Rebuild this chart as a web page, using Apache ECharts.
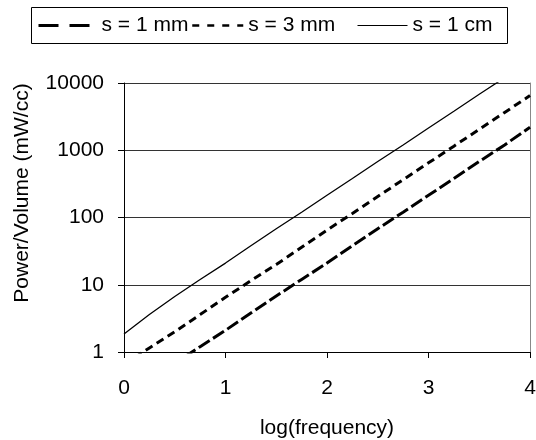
<!DOCTYPE html>
<html>
<head>
<meta charset="utf-8">
<script src="https://cdn.jsdelivr.net/npm/echarts@6/dist/echarts.min.js"></script>
<style>
html,body{margin:0;padding:0;background:#fff;}
#c{width:536px;height:440px;}
</style>
</head>
<body>
<div id="c"></div>
<script>
// log(frequency) sample positions
var logFreq = [0, 0.25, 0.5, 0.75, 1, 1.25, 1.5, 1.75, 2, 2.25, 2.5, 2.75, 3, 3.25, 3.5, 3.75, 4];
// Power/Volume (mW/cc)
var s1mm = [0.3, 0.5, 0.68, 1.2, 2.1, 3.8, 6.8, 12, 21, 38, 68, 120, 214, 380, 680, 1200, 2200];
var s3mm = [0.65, 1.15, 2.0, 3.6, 6.5, 11.5, 20, 36, 65, 115, 205, 365, 650, 1150, 2050, 3650, 6500];
var s1cm = [1.85, 3.6, 6.7, 12, 21, 38, 68, 120, 214, 380, 680, 1200, 2140, 3800, 6800, 12000, 21000];
var seriesNames = ['s = 1 mm', 's = 3 mm', 's = 1 cm'];
var yTicks = [1, 10, 100, 1000, 10000];

function pairs(ys){ return logFreq.map(function(x,i){ return [x, ys[i]]; }); }

var font = 'Liberation Sans, Arial, sans-serif';
var styles = [
  {width:3, type:[13,4]},
  {width:3, type:[8,5]},
  {width:1.3, type:'solid'}
];
var legendStyles = [
  {left:37, w:58, ls:{color:'#000', width:3, type:[20,11]}},
  {left:191, w:51, ls:{color:'#000', width:2.5, type:[7,8]}},
  {left:357, w:50, ls:{color:'#000', width:1, type:'solid'}}
];
var allData = [s1mm, s3mm, s1cm];

var chart = echarts.init(document.getElementById('c'), null, {renderer:'canvas'});
chart.setOption({
  animation:false,
  backgroundColor:'#fff',
  grid:{left:124, right:6, top:83, bottom:88, containLabel:false, outerBoundsMode:'none'},
  legend: legendStyles.map(function(l,i){
    return {
      show:true,
      left:l.left, top:15, padding:0, itemWidth:l.w, itemHeight:14,
      data:[seriesNames[i]],
      lineStyle:l.ls,
      itemStyle:{opacity:0},
      textStyle:{fontFamily:font, fontSize:21, color:'#000'},
      selectedMode:false
    };
  }),
  graphic:[
    {type:'rect', shape:{x:31.5, y:7.5, width:476, height:36}, style:{fill:'none', stroke:'#000', lineWidth:1}, z:-1},
    {type:'text', x:22, y:193, rotation:Math.PI/2, style:{text:'Power/Volume (mW/cc)', font:'21px ' + font, fill:'#000', align:'center', verticalAlign:'middle'}}
  ],
  xAxis:{
    type:'value', min:0, max:4, interval:1,
    name:'log(frequency)', nameLocation:'middle', nameGap:66,
    nameTextStyle:{fontFamily:font, fontSize:21, color:'#000'},
    axisLine:{lineStyle:{color:'#000', width:1}},
    axisTick:{inside:false, length:6, lineStyle:{color:'#000'}},
    axisLabel:{margin:26, fontFamily:font, fontSize:21, color:'#000'},
    splitLine:{show:false}
  },
  yAxis:[{
    type:'log', logBase:10, min:yTicks[0], max:yTicks[yTicks.length-1],
    axisLine:{show:true, lineStyle:{color:'#000', width:1}},
    axisTick:{show:true, inside:false, length:6, lineStyle:{color:'#000'}},
    axisLabel:{margin:20, fontFamily:font, fontSize:21, color:'#000', formatter:function(v){ return String(Math.round(v)); }},
    splitLine:{show:true, lineStyle:{color:'#333', width:1}},
    minorTick:{show:false}
  },{
    type:'log', logBase:10, min:1, max:10000, position:'right',
    axisLine:{show:true, lineStyle:{color:'#888', width:1}},
    axisTick:{show:false}, axisLabel:{show:false}, splitLine:{show:false}
  }],
  series: allData.map(function(d,i){
    return {
      name:seriesNames[i], type:'line', data:pairs(d), showSymbol:false, symbol:'none',
      clip:true, smooth:false, color:'#000',
      lineStyle:{color:'#000', width:styles[i].width, type:styles[i].type},
      itemStyle:{color:'#000'}
    };
  })
});
</script>
</body>
</html>
